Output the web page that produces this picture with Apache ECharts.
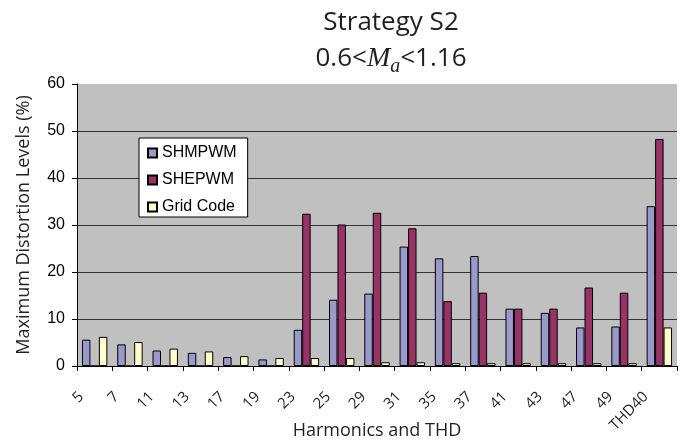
<!DOCTYPE html>
<html>
<head>
<meta charset="utf-8">
<script src="https://cdn.jsdelivr.net/npm/echarts@6/dist/echarts.min.js"></script>
<style>
html,body{margin:0;padding:0;background:#fff;}
#c{width:696px;height:442px;}
</style>
</head>
<body>
<div id="c"></div>
<script>
const categories = ['5','7','11','13','17','19','23','25','29','31','35','37','41','43','47','49','THD40'];
const shmpwm   = [5.6, 4.6, 3.3, 2.8, 1.9, 1.4, 7.7, 14.1, 15.4, 25.4, 22.9, 23.4, 12.2, 11.3, 8.2, 8.4, 34.0];
const shepwm   = [0, 0, 0, 0, 0, 0, 32.4, 30.1, 32.6, 29.3, 13.8, 15.6, 12.2, 12.2, 16.7, 15.6, 48.3];
const gridCode = [6.2, 5.1, 3.7, 3.1, 2.1, 1.7, 1.7, 1.7, 0.8, 0.8, 0.6, 0.6, 0.6, 0.6, 0.6, 0.6, 8.2];
const seriesNames = ['SHMPWM', 'SHEPWM', 'Grid Code'];
const yTicks = {min: 0, max: 60, interval: 10};

const chart = echarts.init(document.getElementById('c'), null, {renderer: 'canvas'});
const sans = 'Open Sans';
const arial = 'Liberation Sans';
const barStyle = (c) => ({color: c, borderColor: '#000', borderWidth: 1});

chart.setOption({
  animation: false,
  backgroundColor: '#fff',
  title: {
    left: 386, top: 0, textAlign: 'center',
    text: 'Strategy S2\n0.6<{m|M}{s|a}<1.16',
    textStyle: {
      fontFamily: sans, fontSize: 26, fontWeight: 'normal', color: '#231f20', lineHeight: 36,
      rich: {
        m: {fontFamily: 'Liberation Serif', fontStyle: 'italic', fontSize: 28, color: '#231f20', lineHeight: 36},
        s: {fontFamily: 'Liberation Serif', fontStyle: 'italic', fontSize: 20, color: '#231f20', lineHeight: 18, verticalAlign: 'bottom'}
      }
    }
  },
  legend: {
    orient: 'vertical', left: 139, top: 138,
    backgroundColor: '#fff', borderColor: '#000', borderWidth: 1,
    padding: [7, 11, 2, 8], itemGap: 11, itemWidth: 9, itemHeight: 9,
    textStyle: {fontFamily: arial, fontSize: 16, color: '#000'},
    data: seriesNames.map(n => ({name: n, icon: 'rect'}))
  },
  grid: {
    left: 77, right: 19, top: 84, bottom: 76,
    outerBoundsMode: 'none', containLabel: false,
    show: true, backgroundColor: '#c0c0c0', borderWidth: 0
  },
  xAxis: {
    type: 'category', data: categories,
    name: 'Harmonics and THD', nameLocation: 'middle', nameGap: 56, nameMoveOverlap: false,
    nameTextStyle: {fontFamily: sans, fontSize: 18, color: '#231f20'},
    axisLine: {lineStyle: {color: '#000', width: 1}},
    axisTick: {show: true, length: 5, lineStyle: {color: '#000'}},
    axisLabel: {
      interval: 0, rotate: 45, margin: 15,
      formatter: (v) => '{t|' + v + '}',
      rich: {t: {fontFamily: sans, fontSize: 15, color: '#231f20', padding: [0, 19, 0, 0]}}
    }
  },
  yAxis: {
    type: 'value', min: yTicks.min, max: yTicks.max, interval: yTicks.interval,
    name: 'Maximum Distortion Levels (%)', nameLocation: 'middle', nameGap: 44, nameMoveOverlap: false,
    nameTextStyle: {fontFamily: sans, fontSize: 18, color: '#231f20'},
    axisLine: {show: true, lineStyle: {color: '#000', width: 1}},
    axisTick: {show: true, length: 5, lineStyle: {color: '#000'}},
    axisLabel: {margin: 12, fontFamily: arial, fontSize: 16, color: '#000'},
    splitLine: {show: true, showMaxLine: false, lineStyle: {color: '#333', width: 1}}
  },
  series: [
    {name: seriesNames[0], type: 'bar', data: shmpwm, barGap: '0%', barCategoryGap: '28%', itemStyle: barStyle('#9999cc')},
    {name: seriesNames[1], type: 'bar', data: shepwm, barGap: '0%', barCategoryGap: '28%', itemStyle: barStyle('#993366')},
    {name: seriesNames[2], type: 'bar', data: gridCode, barGap: '0%', barCategoryGap: '28%', itemStyle: barStyle('#ffffcc')}
  ]
});
</script>
</body>
</html>
